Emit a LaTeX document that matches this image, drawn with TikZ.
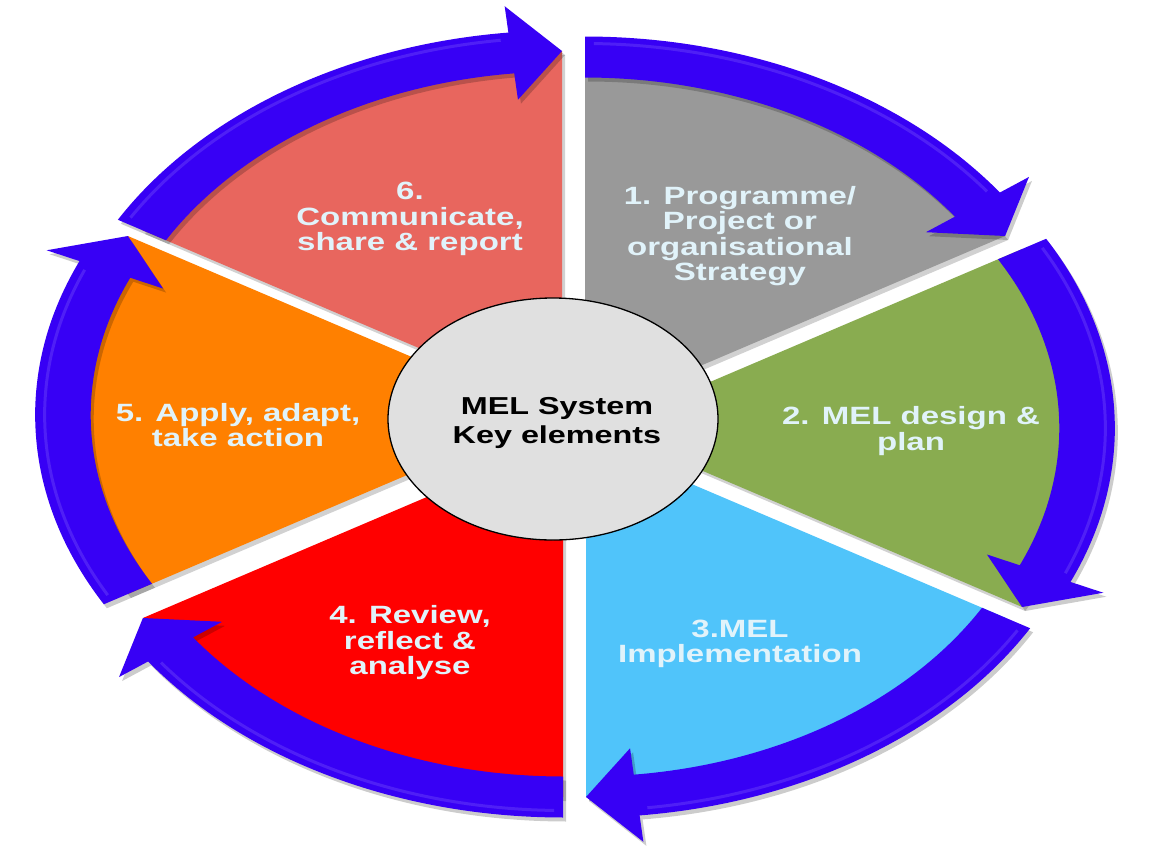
\documentclass[tikz,border=0pt]{standalone}
\usepackage{fontspec}
\usetikzlibrary{shapes.geometric,calc}
\newfontfamily\melfont{Liberation Sans}[FakeStretch=1.32]
\definecolor{arrowblue}{RGB}{55,0,245}
\definecolor{secgray}{RGB}{153,153,153}
\definecolor{secgreen}{RGB}{137,172,80}
\definecolor{seccyan}{RGB}{80,196,250}
\definecolor{secred}{RGB}{255,0,0}
\definecolor{secorange}{RGB}{255,128,0}
\definecolor{secsalmon}{RGB}{232,102,94}
\definecolor{coregray}{RGB}{224,224,224}
\definecolor{labeltext}{RGB}{225,243,250}
\newcommand\melS{1.355}
\newcommand\melR{358}
\newcommand\melh{20.5}
\newcommand\melH{47}
\newcommand\meld{6}
\newcommand\melsector[5]{%
  \fill[black,opacity=0.18] ($(#2,#3)+(3,4)$) -- plot[domain=#4:#5,samples=60] ({#2+3+\melS*\melR*cos(\x)},{#3+4+\melR*sin(\x)}) -- cycle;
  \fill[#1] (#2,#3) -- plot[domain=#4:#5,samples=60] ({#2+\melS*\melR*cos(\x)},{#3+\melR*sin(\x)}) -- cycle;}
\newcommand\melarrowpath[4]{%
  plot[domain=#3:\meltb,samples=60] ({#1+\melS*(\melR-\melh)*cos(\x)},{#2+(\melR-\melh)*sin(\x)})
   -- ({#1+\melS*(\melR-\melH)*cos(\meltb)},{#2+(\melR-\melH)*sin(\meltb)})
   -- ({#1+\melS*\melR*cos(#4)},{#2+\melR*sin(#4)})
   -- ({#1+\melS*(\melR+\melH)*cos(\meltb)},{#2+(\melR+\melH)*sin(\meltb)})
   -- plot[domain=\meltb:#3,samples=60] ({#1+\melS*(\melR+\melh)*cos(\x)},{#2+(\melR+\melh)*sin(\x)})
   -- cycle}
\newcommand\melarrow[4]{%
  \pgfmathsetmacro\meltb{#4-\meld}%
  \begin{scope}[shift={(3,4)}]
    \fill[black,opacity=0.2] \melarrowpath{#1}{#2}{#3}{#4};
  \end{scope}
  \fill[arrowblue] \melarrowpath{#1}{#2}{#3}{#4};
  \draw[white,opacity=0.12,line width=3pt] plot[domain=#3+1:\meltb-1,samples=60] ({#1+\melS*(\melR+\melh-7)*cos(\x)},{#2+(\melR+\melh-7)*sin(\x)});}
\tikzset{
  seclabel/.style={align=center, text=labeltext, inner sep=0pt,
    font=\melfont\bfseries\fontsize{25}{25.5}\selectfont},
  coreshape/.style={draw=black, line width=1.3pt, fill=coregray, ellipse,
    minimum width=330pt, minimum height=242pt, inner sep=0pt},
  corelabel/.style={align=center, inner sep=0pt,
    font=\melfont\bfseries\fontsize{24.5}{29}\selectfont}
}
\begin{document}
\begin{tikzpicture}[x=1pt,y=-1pt]
\useasboundingbox[fill=white] (0,0) rectangle (1176,852);
% sectors
\melsector{secgray}{585}{415}{-90}{-30}
\melsector{secgreen}{602}{428}{-30}{30}
\melsector{seccyan}{586}{439}{30}{90}
\melsector{secred}{563}{439}{90}{150}
\melsector{secorange}{548}{415}{150}{210}
\melsector{secsalmon}{562}{409}{210}{270}
% arrows
\melarrow{585}{415}{-90}{-30}
\melarrow{602}{428}{-30}{30}
\melarrow{586}{439}{30}{90}
\melarrow{563}{439}{90}{150}
\melarrow{548}{415}{150}{210}
\melarrow{562}{409}{210}{270}
% centre
\node[coreshape] (core) at (553,419) {};
\node[corelabel] (coretext) at (557,423) {MEL System\\Key elements};
% labels
\node[seclabel] (s1) at (740,236) {1. Programme/\\Project or\\organisational\\Strategy};
\node[seclabel] (s2) at (911,431) {2. MEL design \&\\plan};
\node[seclabel] (s3) at (740,644) {3.MEL\\Implementation};
\node[seclabel] (s4) at (410,643) {4. Review,\\reflect \&\\analyse};
\node[seclabel] (s5) at (238,425) {5. Apply, adapt,\\take action};
\node[seclabel] (s6) at (410,219) {6.\\Communicate,\\share \& report};
\end{tikzpicture}
\end{document}
